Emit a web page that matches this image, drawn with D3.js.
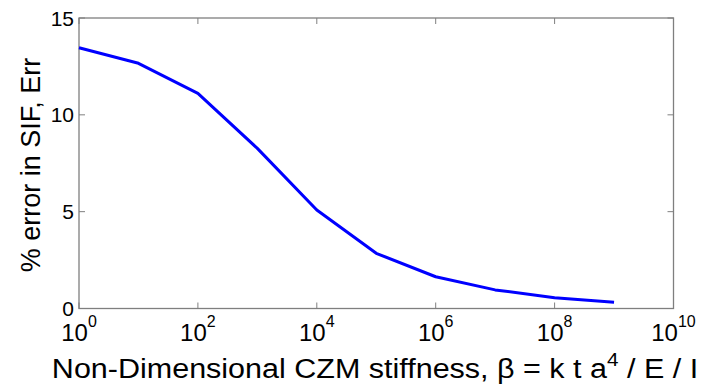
<!DOCTYPE html>
<html><head><meta charset="utf-8">
<script src="https://cdn.jsdelivr.net/npm/d3@7"></script>
<style>body{margin:0;background:#fff}svg{display:block}text{font-family:"Liberation Sans",Arial,sans-serif;fill:#000}</style>
</head><body><svg id="c" width="702" height="391"></svg>
<script>
const exponents = [0,1,2,3,4,5,6,7,8,9];
const errValues = [13.46,12.66,11.11,8.27,5.09,2.85,1.64,0.96,0.56,0.32];
const xTickExps = [0,2,4,6,8,10];
const yTicks = [0,5,10,15];

const svg = d3.select("#c");
const L=79, R=673.5, T=18, B=308.5;
const x = d3.scaleLog().domain([1,1e10]).range([L,R]);
const y = d3.scaleLinear().domain([0,15]).range([B,T]);
const axisCol="#7f7f7f";

const g = svg.append("g");
g.append("rect").attr("x",L).attr("y",T).attr("width",R-L).attr("height",B-T)
 .attr("fill","none").attr("stroke",axisCol).attr("stroke-width",1.3);

// ticks
xTickExps.forEach(e=>{
  const xx=x(Math.pow(10,e));
  g.append("line").attr("x1",xx).attr("x2",xx).attr("y1",B).attr("y2",B-6).attr("stroke",axisCol);
  g.append("line").attr("x1",xx).attr("x2",xx).attr("y1",T).attr("y2",T+6).attr("stroke",axisCol);
  const t=g.append("text").attr("x",xx).attr("y",340.5).attr("text-anchor","middle").style("font-size","24px");
  t.append("tspan").text("10");
  t.append("tspan").attr("dy",-14).style("font-size","16px").text(e);
});
yTicks.forEach(v=>{
  const yy=y(v);
  g.append("line").attr("x1",L).attr("x2",L+6).attr("y1",yy).attr("y2",yy).attr("stroke",axisCol);
  g.append("line").attr("x1",R).attr("x2",R-6).attr("y1",yy).attr("y2",yy).attr("stroke",axisCol);
  g.append("text").attr("x",L-5).attr("y",yy+7.5).attr("text-anchor","end").style("font-size","21px").text(v);
});

const line=d3.line().x((d,i)=>x(Math.pow(10,exponents[i]))).y(d=>y(d));
g.append("path").datum(errValues).attr("d",line).attr("fill","none")
 .attr("stroke","#0000ff").attr("stroke-width",3).attr("stroke-linejoin","round");

// labels
const xl=g.append("text").attr("transform","translate(375,378) scale(1.09,1)").attr("text-anchor","middle").style("font-size","28px");
xl.append("tspan").text("Non-Dimensional CZM stiffness, β = k t a");
xl.append("tspan").attr("dy",-12).style("font-size","19px").text("4");
xl.append("tspan").attr("dy",12).text(" / E / I");

g.append("text").attr("transform","translate(40,165) rotate(-90)").attr("text-anchor","middle")
 .style("font-size","27px").text("% error in SIF, Err");
</script></body></html>
